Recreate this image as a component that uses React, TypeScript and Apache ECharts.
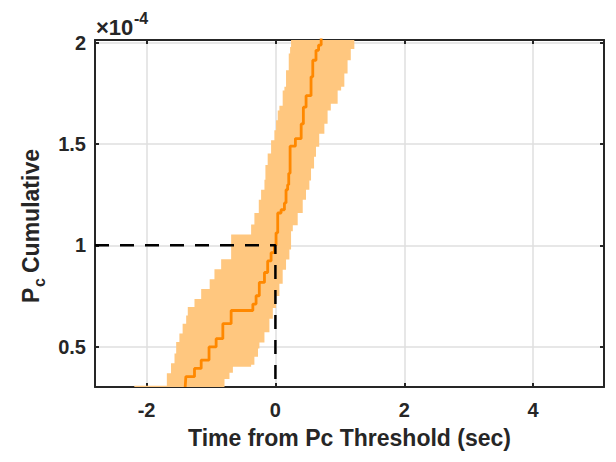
import React, { useEffect, useRef } from 'react';
import * as echarts from 'echarts';

// ---- data (Pc values in units of 1e-4) ----
const xTicks = [-2, 0, 2, 4];
const yTicks = [0.5, 1, 1.5, 2];
const xMin = -2.8;
const xMax = 5.1;
const yMin = 0.3;
const yMax = 2.015;

// median cumulative Pc (stairs: x where the step happens, y after the step)
const medianX = [-1.4, -1.39, -1.256, -1.152, -1.03, -0.92, -0.816, -0.687, -0.35, -0.3, -0.25, -0.17, -0.12, -0.067, -0.016, 0.01, 0.036, 0.088, 0.14, 0.165, 0.19, 0.207, 0.228, 0.31, 0.4, 0.434, 0.476, 0.553, 0.58, 0.63, 0.67, 0.71];
const medianY = [0.3, 0.351, 0.392, 0.433, 0.498, 0.539, 0.613, 0.678, 0.71, 0.751, 0.817, 0.866, 0.923, 0.964, 1.0, 1.062, 1.16, 1.176, 1.21, 1.275, 1.3, 1.356, 1.49, 1.528, 1.6, 1.683, 1.74, 1.833, 1.915, 1.964, 1.99, 2.03];

// uncertainty band: left (early) edge and right (late) edge, as stairs in y
const bandLeftY = [0.3, 0.306, 0.368, 0.417, 0.466, 0.523, 0.564, 0.613, 0.653, 0.695, 0.735, 0.784, 0.833, 0.882, 0.931, 1.054, 1.103, 1.16, 1.225, 1.275, 1.324, 1.397, 1.454, 1.52, 1.569, 1.618, 1.667, 1.69, 1.765, 1.784, 1.866, 1.948, 1.98];
const bandLeftX = [-2.19, -1.685, -1.62, -1.566, -1.54, -1.49, -1.44, -1.385, -1.36, -1.256, -1.152, -1.02, -0.946, -0.842, -0.687, -0.377, -0.326, -0.258, -0.222, -0.17, -0.155, -0.12, -0.067, -0.016, 0.01, 0.036, 0.062, 0.113, 0.14, 0.165, 0.207, 0.228, 0.243];
const bandRightY = [0.3, 0.34, 0.37, 0.4, 0.41, 0.45, 0.49, 0.52, 0.57, 0.637, 0.69, 0.75, 0.81, 0.88, 0.93, 0.98, 1.07, 1.1, 1.16, 1.225, 1.275, 1.32, 1.38, 1.438, 1.487, 1.552, 1.601, 1.667, 1.7, 1.765, 1.784, 1.85, 1.915, 1.97];
const bandRightX = [-0.79, -0.713, -0.66, -0.377, -0.326, -0.27, -0.248, -0.17, -0.093, -0.04, 0.01, 0.062, 0.113, 0.165, 0.217, 0.243, 0.27, 0.346, 0.424, 0.475, 0.527, 0.553, 0.6, 0.63, 0.68, 0.76, 0.81, 0.86, 0.966, 1.02, 1.07, 1.12, 1.17, 1.225];
const bandTop = 2.03;

// threshold guide
const thresholdTime = 0;
const thresholdPc = 1;

const AX = '#262626';
const FONT = 'Liberation Sans, Arial, Helvetica, sans-serif';

export default function App() {
  const ref = useRef<HTMLDivElement>(null);
  useEffect(() => {
    if (!ref.current) return;
    const chart = echarts.init(ref.current, undefined, { renderer: 'svg' });

    const medianData = medianX.map((x, i) => [x, medianY[i]]);
    const axisCommon = {
      type: 'value' as const,
      axisLine: { show: true, onZero: false, lineStyle: { color: AX, width: 2 } },
      axisTick: { show: true, inside: true, length: 4, lineStyle: { color: AX, width: 2 } },
    };

    chart.setOption({
      animation: false,
      backgroundColor: '#ffffff',
      grid: { left: 87, top: 32, right: 4, bottom: 66, containLabel: false },
      xAxis: [
        {
          ...axisCommon,
          min: xMin,
          max: xMax,
          position: 'bottom',
          axisTick: { ...axisCommon.axisTick, customValues: xTicks },
          axisLabel: {
            customValues: xTicks,
            color: AX,
            fontSize: 20,
            fontWeight: 'bold',
            fontFamily: FONT,
            margin: 13,
          },
          splitLine: { show: true, lineStyle: { color: '#DFDFDF', width: 1.5 } },
          name: 'Time from Pc Threshold (sec)',
          nameLocation: 'middle',
          nameGap: 39,
          nameTextStyle: { color: AX, fontSize: 23, fontWeight: 'bold', fontFamily: FONT },
        },
        {
          ...axisCommon,
          min: xMin,
          max: xMax,
          position: 'top',
          axisTick: { ...axisCommon.axisTick, customValues: xTicks },
          axisLabel: { show: false },
          splitLine: { show: false },
        },
      ],
      yAxis: [
        {
          ...axisCommon,
          min: yMin,
          max: yMax,
          position: 'left',
          axisTick: { ...axisCommon.axisTick, customValues: yTicks },
          axisLabel: {
            customValues: yTicks,
            color: AX,
            fontSize: 20,
            fontWeight: 'bold',
            fontFamily: FONT,
            margin: 9,
          },
          splitLine: { show: true, lineStyle: { color: '#DFDFDF', width: 1.5 } },
        },
        {
          ...axisCommon,
          min: yMin,
          max: yMax,
          position: 'right',
          axisTick: { ...axisCommon.axisTick, customValues: yTicks },
          axisLabel: { show: false },
          splitLine: { show: false },
        },
      ],
      graphic: [
        {
          type: 'group',
          x: 23,
          y: 218,
          rotation: Math.PI / 2,
          children: [
            { type: 'text', x: -77, y: 0, style: { text: 'P', fontSize: 23, fontWeight: 'bold', fontFamily: FONT, fill: AX, textVerticalAlign: 'middle' } },
            { type: 'text', x: -61, y: 8, style: { text: 'c', fontSize: 16, fontWeight: 'bold', fontFamily: FONT, fill: AX, textVerticalAlign: 'middle' } },
            { type: 'text', x: -47, y: 0, style: { text: 'Cumulative', fontSize: 23, fontWeight: 'bold', fontFamily: FONT, fill: AX, textVerticalAlign: 'middle' } },
          ],
        },
        {
          type: 'text',
          x: 88,
          y: 19,
          style: { text: '×10', fontSize: 22, fontWeight: 'bold', fontFamily: FONT, fill: AX, textVerticalAlign: 'middle' },
        },
        {
          type: 'text',
          x: 126,
          y: 10,
          style: { text: '-4', fontSize: 16, fontWeight: 'bold', fontFamily: FONT, fill: AX, textVerticalAlign: 'middle' },
        },
      ],
      series: [
        {
          type: 'custom',
          xAxisIndex: 0,
          yAxisIndex: 0,
          clip: true,
          silent: true,
          z: 1,
          data: [[0, 1]],
          renderItem: (_params: any, api: any) => {
            const pts: number[][] = [];
            for (let i = 0; i < bandLeftY.length; i++) {
              const y0 = bandLeftY[i];
              const y1 = i + 1 < bandLeftY.length ? bandLeftY[i + 1] : bandTop;
              pts.push(api.coord([bandLeftX[i], y0]), api.coord([bandLeftX[i], y1]));
            }
            for (let i = bandRightY.length - 1; i >= 0; i--) {
              const y1 = i + 1 < bandRightY.length ? bandRightY[i + 1] : bandTop;
              const y0 = bandRightY[i];
              pts.push(api.coord([bandRightX[i], y1]), api.coord([bandRightX[i], y0]));
            }
            return { type: 'polygon', shape: { points: pts }, style: { fill: '#FFC77F' } };
          },
        },
        {
          type: 'line',
          xAxisIndex: 0,
          yAxisIndex: 0,
          data: medianData,
          step: 'end',
          symbol: 'none',
          clip: true,
          z: 3,
          lineStyle: { color: '#FF8800', width: 2.8 },
        },
        {
          type: 'line',
          xAxisIndex: 0,
          yAxisIndex: 0,
          data: [[xMin, thresholdPc], [thresholdTime, thresholdPc], [thresholdTime, yMin]],
          symbol: 'none',
          clip: true,
          z: 4,
          lineStyle: { color: '#000000', width: 2.5, type: [14, 11] },
        },
      ],
    });
    return () => chart.dispose();
  }, []);
  return <div ref={ref} style={{ width: 600, height: 446 }} />;
}
